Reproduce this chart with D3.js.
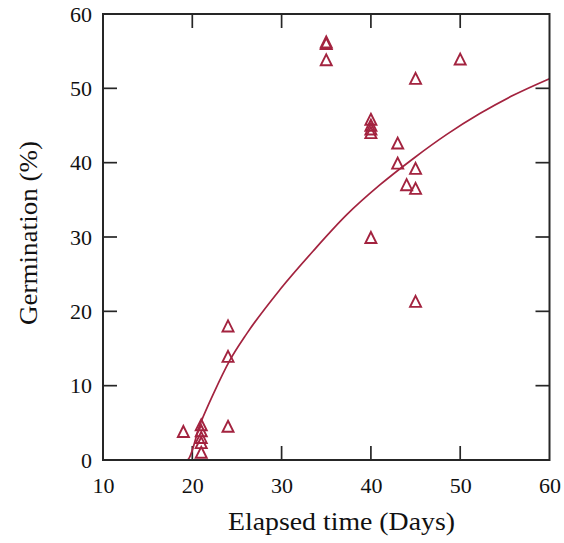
<!DOCTYPE html>
<html>
<head>
<meta charset="utf-8">
<script src="https://cdn.jsdelivr.net/npm/d3@7"></script>
<style>
  html, body { margin: 0; padding: 0; background: #fff; }
  svg { display: block; }
  text { font-family: 'Liberation Serif', 'Times New Roman', serif; }
</style>
</head>
<body>
<svg id="chart" width="564" height="543"></svg>
<script>
// Observed germination (%) by elapsed time (days)
const obsDays = [19, 21, 21, 21, 21, 21, 24, 24, 24, 35, 35, 35, 40, 40, 40, 40, 40, 43, 43, 44, 45, 45, 45, 45, 50];
const obsGerm = [3.8, 4.7, 3.9, 3.0, 2.3, 1.0, 18.0, 13.9, 4.5, 56.0, 56.2, 53.8, 45.8, 45.0, 44.5, 44.0, 29.9, 42.6, 39.9, 37.0, 51.3, 39.2, 36.5, 21.3, 53.9];

// Fitted germination curve
const fitDays = [11, 19.4, 20.9, 22.4, 24.2, 26.1, 29.8, 33.6, 37.3, 41.0, 44.8, 48.5, 52.2, 56.0, 60];
const fitGerm = [0, 0, 4.9, 9.0, 13.4, 17.0, 22.9, 28.2, 33.0, 37.0, 40.6, 43.8, 46.6, 49.1, 51.3];

// Axis ticks
const xTicks = [10, 20, 30, 40, 50, 60];
const yTicks = [0, 10, 20, 30, 40, 50, 60];

const red = "#a3233f";
const frame = "#262626";
const font = "'Liberation Serif', 'Times New Roman', serif";

const svg = d3.select("#chart");
const plotLeft = 103, plotRight = 549.5, plotTop = 14, plotBottom = 460;

const x = d3.scaleLinear().domain([10, 60]).range([plotLeft, plotRight]);
const y = d3.scaleLinear().domain([0, 60]).range([plotBottom, plotTop]);

const tickLen = 14;

// Bottom axis: labels outside, ticks drawn inward
const gx = svg.append("g").attr("transform", `translate(0,${plotBottom})`)
  .call(d3.axisBottom(x).tickValues(xTicks).tickSize(0).tickPadding(17).tickFormat(d3.format("d")));
gx.select(".domain").remove();
gx.attr("font-family", null);
gx.selectAll("text").style("font-family", font).attr("font-size", 22).attr("fill", "#111");

// Left axis labels
const gy = svg.append("g").attr("transform", `translate(${plotLeft},0)`)
  .call(d3.axisLeft(y).tickValues(yTicks).tickSize(0).tickPadding(11).tickFormat(d3.format("d")));
gy.select(".domain").remove();
gy.attr("font-family", null);
gy.selectAll("text").style("font-family", font).attr("font-size", 22).attr("fill", "#111");

// Inward tick marks on all four sides (interior values only)
const innerX = xTicks.filter(d => d > 10 && d < 60);
const innerY = yTicks.filter(d => d > 0 && d < 60);
const ticks = svg.append("g").attr("stroke", frame).attr("stroke-width", 1.7);
innerX.forEach(d => {
  ticks.append("line").attr("x1", x(d)).attr("x2", x(d)).attr("y1", plotBottom).attr("y2", plotBottom - tickLen);
  ticks.append("line").attr("x1", x(d)).attr("x2", x(d)).attr("y1", plotTop).attr("y2", plotTop + tickLen);
});
innerY.forEach(d => {
  ticks.append("line").attr("y1", y(d)).attr("y2", y(d)).attr("x1", plotLeft).attr("x2", plotLeft + tickLen);
  ticks.append("line").attr("y1", y(d)).attr("y2", y(d)).attr("x1", plotRight).attr("x2", plotRight - tickLen);
});

// Fitted curve
const fit = fitDays.map((d, i) => [d, fitGerm[i]]);
svg.append("path")
  .datum(fit)
  .attr("fill", "none")
  .attr("stroke", red)
  .attr("stroke-width", 1.7)
  .attr("d", d3.line().x(d => x(d[0])).y(d => y(d[1])).curve(d3.curveMonotoneX));

// Open triangle marker, roughly as tall as it is wide
const openTriangle = {
  draw(ctx, size) {
    const w = Math.sqrt(size) / 2;
    ctx.moveTo(0, -w * 1.05);
    ctx.lineTo(w, w * 0.95);
    ctx.lineTo(-w, w * 0.95);
    ctx.closePath();
  }
};

// Observations as open triangles
const obs = obsDays.map((d, i) => [d, obsGerm[i]]);
const tri = d3.symbol().type(openTriangle).size(121);
svg.append("g").selectAll("path")
  .data(obs)
  .join("path")
  .attr("transform", d => `translate(${x(d[0])},${y(d[1])})`)
  .attr("d", tri)
  .attr("fill", "none")
  .attr("stroke", red)
  .attr("stroke-width", 1.9)
  .attr("stroke-linejoin", "miter");

// Plot frame
svg.append("rect")
  .attr("x", plotLeft).attr("y", plotTop)
  .attr("width", plotRight - plotLeft).attr("height", plotBottom - plotTop)
  .attr("fill", "none").attr("stroke", frame).attr("stroke-width", 2);

// Axis titles
svg.append("text")
  .attr("x", 341.5).attr("y", 530)
  .attr("text-anchor", "middle")
  .attr("font-size", 25).attr("fill", "#111")
  .attr("textLength", 227).attr("lengthAdjust", "spacingAndGlyphs")
  .text("Elapsed time (Days)");

svg.append("text")
  .attr("transform", `translate(37,233) rotate(-90)`)
  .attr("text-anchor", "middle")
  .attr("font-size", 25).attr("fill", "#111")
  .attr("textLength", 184).attr("lengthAdjust", "spacingAndGlyphs")
  .text("Germination (%)");
</script>
</body>
</html>
